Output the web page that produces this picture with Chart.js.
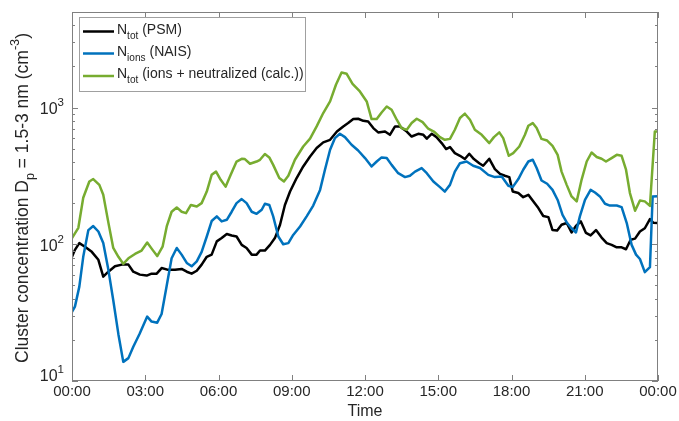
<!DOCTYPE html>
<html lang="en">
<head>
<meta charset="UTF-8" />
<title>Cluster concentration</title>
<script src="https://cdn.jsdelivr.net/npm/chart.js"></script>
<style>
  html, body { margin: 0; padding: 0; background: #fff; }
  #wrap { width: 679px; height: 421px; }
</style>
</head>
<body>
<div id="wrap"><canvas id="c" width="679" height="421"></canvas></div>
<script>
// time of day in hours (0 = 00:00, 24 = next 00:00), values in cm^-3
const tPSM = [0, 0.12, 0.30, 0.53, 0.81, 1.08, 1.28, 1.49, 1.76, 2.04,
  2.31, 2.51, 2.78, 3.06, 3.26, 3.47, 3.67, 3.94, 4.22, 4.49,
  4.70, 4.90, 5.11, 5.31, 5.52, 5.72, 5.93, 6.13, 6.34, 6.54,
  6.74, 6.95, 7.15, 7.36, 7.56, 7.70, 7.90, 8.11, 8.31, 8.52,
  8.72, 8.93, 9.20, 9.47, 9.75, 10.02, 10.29, 10.57, 10.85, 11.11,
  11.31, 11.52, 11.72, 11.93, 12.13, 12.34, 12.54, 12.82, 13.02, 13.23,
  13.43, 13.71, 13.91, 14.18, 14.39, 14.53, 14.73, 14.93, 15.14, 15.32,
  15.48, 15.68, 15.89, 16.09, 16.27, 16.46, 16.68, 16.84, 17.09, 17.32,
  17.53, 17.73, 17.91, 18.05, 18.28, 18.48, 18.69, 18.89, 19.10, 19.30,
  19.51, 19.68, 19.87, 20.05, 20.26, 20.46, 20.64, 20.84, 21.05, 21.24,
  21.46, 21.69, 21.90, 22.10, 22.31, 22.51, 22.69, 22.88, 23.06, 23.26,
  23.46, 23.67, 23.80, 24.0];
const nPSM = [81, 91, 102, 96, 88, 77, 58, 63, 69, 71,
  71, 63, 60, 59, 61, 61, 67, 65, 65, 66,
  63, 61, 64, 71, 81, 84, 105, 111, 119, 116,
  114, 99, 94, 84, 84, 90, 90, 99, 111, 139,
  194, 243, 305, 371, 439, 506, 556, 581, 668, 728,
  770, 824, 828, 800, 790, 708, 658, 668, 632, 728,
  728, 668, 614, 643, 632, 592, 643, 608, 550, 497,
  514, 464, 444, 420, 459, 420, 392, 375, 422, 355,
  327, 317, 310, 243, 237, 221, 230, 206, 184, 161,
  158, 127, 126, 139, 143, 122, 136, 147, 121, 116,
  127, 112, 102, 99, 95, 95, 92, 108, 110, 124,
  131, 153, 144, 143];

const tNAIS = [0, 0.12, 0.30, 0.46, 0.67, 0.87, 1.08, 1.28, 1.49, 1.69,
  1.90, 2.10, 2.31, 2.51, 2.76, 3.08, 3.26, 3.49, 3.67, 3.88,
  4.08, 4.29, 4.49, 4.70, 4.90, 5.11, 5.31, 5.52, 5.72, 5.93,
  6.13, 6.34, 6.54, 6.74, 6.95, 7.15, 7.36, 7.56, 7.77, 7.90,
  8.08, 8.24, 8.45, 8.65, 8.86, 9.06, 9.34, 9.61, 9.88, 10.16,
  10.36, 10.57, 10.77, 10.97, 11.18, 11.45, 11.72, 12.00, 12.27, 12.48,
  12.68, 12.89, 13.09, 13.36, 13.64, 13.84, 14.05, 14.32, 14.53, 14.80,
  15.07, 15.27, 15.48, 15.68, 15.89, 16.16, 16.43, 16.71, 17.05, 17.32,
  17.60, 17.87, 18.05, 18.28, 18.48, 18.69, 18.87, 19.03, 19.23, 19.46,
  19.68, 19.89, 20.09, 20.28, 20.46, 20.64, 20.80, 21.01, 21.24, 21.42,
  21.62, 21.83, 22.03, 22.31, 22.51, 22.72, 22.92, 23.10, 23.26, 23.46,
  23.67, 23.78, 24.0];
const nNAIS = [32, 35, 49, 81, 127, 136, 124, 102, 65, 39,
  22, 13.8, 14.7, 17.8, 22, 29.6, 27.2, 26.7, 30.9, 50,
  79, 94, 84, 73, 69, 75, 88, 114, 148, 160,
  147, 151, 173, 200, 214, 200, 173, 167, 179, 198,
  194, 160, 114, 100, 102, 117, 135, 160, 192, 250,
  351, 491, 598, 643, 608, 535, 485, 427, 371, 403,
  432, 427, 381, 331, 310, 317, 340, 361, 331, 288,
  262, 243, 272, 340, 392, 403, 375, 361, 322, 310,
  313, 268, 262, 300, 351, 403, 415, 361, 293, 277,
  250, 211, 164, 143, 131, 122, 160, 211, 250, 239,
  224, 198, 192, 192, 187, 143, 99, 84, 78, 62.5,
  68, 224, 225];

const tCalc = [0, 0.26, 0.46, 0.71, 0.87, 1.12, 1.28, 1.49, 1.69, 1.90,
  2.10, 2.31, 2.58, 2.85, 3.08, 3.30, 3.49, 3.71, 3.88, 4.08,
  4.29, 4.49, 4.67, 4.87, 5.11, 5.31, 5.52, 5.72, 5.90, 6.09,
  6.29, 6.50, 6.74, 6.95, 7.08, 7.29, 7.56, 7.70, 7.90, 8.08,
  8.24, 8.49, 8.68, 8.86, 9.13, 9.47, 9.75, 10.02, 10.29, 10.57,
  10.81, 11.04, 11.25, 11.49, 11.79, 12.07, 12.27, 12.48, 12.68, 12.89,
  13.09, 13.30, 13.50, 13.71, 13.91, 14.12, 14.36, 14.59, 14.82, 15.07,
  15.27, 15.48, 15.68, 15.89, 16.09, 16.30, 16.50, 16.78, 17.09, 17.28,
  17.50, 17.66, 17.89, 18.07, 18.32, 18.55, 18.69, 18.87, 19.03, 19.23,
  19.46, 19.68, 19.89, 20.05, 20.26, 20.46, 20.67, 20.87, 21.08, 21.28,
  21.49, 21.69, 21.87, 22.10, 22.31, 22.51, 22.69, 22.85, 23.06, 23.26,
  23.46, 23.67, 23.87, 24.0];
const nCalc = [111, 132, 219, 288, 300, 272, 230, 144, 94, 81,
  72, 79, 85, 90, 103, 91, 82, 96, 135, 173,
  186, 173, 169, 194, 189, 200, 243, 322, 340, 296,
  264, 322, 403, 422, 420, 388, 403, 415, 457, 432,
  381, 305, 288, 317, 415, 519, 592, 728, 912, 1109,
  1469, 1807, 1767, 1493, 1312, 1109, 824, 824, 921, 1019,
  964, 815, 708, 688, 770, 828, 783, 700, 668, 608,
  581, 590, 688, 838, 902, 815, 688, 632, 550, 608,
  658, 598, 444, 464, 519, 632, 736, 770, 708, 590,
  574, 525, 451, 340, 272, 224, 206, 296, 403, 469,
  435, 422, 403, 427, 451, 444, 351, 237, 176, 209,
  206, 191, 668, 668];

const xTicks = [0, 3, 6, 9, 12, 15, 18, 21, 24];
const xTickLabels = ['00:00', '03:00', '06:00', '09:00', '12:00', '15:00', '18:00', '21:00', '00:00'];
const yTicks = [10, 100, 1000];
const yTickExps = ['1', '2', '3'];

const seriesNames = [
  [['N', 0], ['tot', 1], [' (PSM)', 0]],
  [['N', 0], ['ions', 1], [' (NAIS)', 0]],
  [['N', 0], ['tot', 1], [' (ions + neutralized (calc.))', 0]]
];

const FONT = '"Liberation Sans", Arial, Helvetica, sans-serif';
const TXT = '#262626';
const AXIS = '#808080';

function toPoints(ts, vs) {
  return ts.map((t, i) => ({ x: t, y: vs[i] }));
}

// text made of normal (0), subscript (1) and superscript (2) pieces
function richWidth(ctx, parts, size) {
  let w = 0;
  for (const [s, m] of parts) {
    ctx.font = (m ? size * 0.72 : size) + 'px ' + FONT;
    w += ctx.measureText(s).width;
  }
  return w;
}
function drawRich(ctx, parts, x, y, size) {
  ctx.textBaseline = 'middle';
  ctx.textAlign = 'left';
  for (const [s, m] of parts) {
    ctx.font = (m ? size * 0.72 : size) + 'px ' + FONT;
    const dy = m === 1 ? size * 0.42 : m === 2 ? -size * 0.42 : 0;
    ctx.fillText(s, x, y + dy);
    x += ctx.measureText(s).width;
  }
}

const frame = {
  id: 'frame',
  afterDraw(chart) {
    const { ctx, chartArea: a, scales: { x, y } } = chart;
    ctx.save();
    ctx.strokeStyle = AXIS;
    ctx.lineWidth = 1;
    ctx.strokeRect(a.left + 0.5, a.top + 0.5, a.right - a.left - 1, a.bottom - a.top - 1);
    ctx.beginPath();
    for (const v of xTicks) {
      const px = Math.round(x.getPixelForValue(v)) + 0.5;
      ctx.moveTo(px, a.bottom); ctx.lineTo(px, a.bottom - 6);
      ctx.moveTo(px, a.top); ctx.lineTo(px, a.top + 6);
    }
    for (let d = 1; d <= 3; d++) {
      for (let m = 1; m <= 9; m++) {
        const v = m * Math.pow(10, d);
        if (v > y.max) break;
        const py = Math.round(y.getPixelForValue(v)) + 0.5;
        const len = m === 1 ? 6 : 3;
        ctx.moveTo(a.left, py); ctx.lineTo(a.left + len, py);
        ctx.moveTo(a.right, py); ctx.lineTo(a.right - len, py);
      }
    }
    ctx.stroke();

    ctx.fillStyle = TXT;
    // y tick labels 10^n
    yTicks.forEach((v, i) => {
      const parts = [['10', 0], [yTickExps[i], 2]];
      const py = y.getPixelForValue(v) + (i === 0 ? -4 : 2);
      drawRich(ctx, parts, 64 - richWidth(ctx, parts, 16), py, 16);
    });

    // x title
    ctx.font = '16px ' + FONT;
    ctx.textAlign = 'center';
    ctx.textBaseline = 'middle';
    ctx.fillText('Time', (a.left + a.right) / 2, 412);

    // y title
    const yt = [['Cluster concentration D', 0], ['p', 1], [' = 1.5-3 nm (cm', 0], ['-3', 2], [')', 0]];
    ctx.save();
    ctx.translate(23, 198);
    ctx.rotate(-Math.PI / 2);
    drawRich(ctx, yt, -richWidth(ctx, yt, 17.5) / 2, 0, 17.5);
    ctx.restore();

    // legend
    const lx = 79, ly = 17, lw = 226, lh = 74;
    ctx.fillStyle = '#fff';
    ctx.fillRect(lx, ly, lw, lh);
    ctx.strokeStyle = '#a0a0a0';
    ctx.strokeRect(lx + 0.5, ly + 0.5, lw, lh);
    const rows = [31.5, 53.5, 76];
    chart.data.datasets.forEach((ds, i) => {
      ctx.strokeStyle = ds.borderColor;
      ctx.lineWidth = 2.5;
      ctx.beginPath();
      ctx.moveTo(83, rows[i]); ctx.lineTo(114, rows[i]);
      ctx.stroke();
      ctx.fillStyle = TXT;
      drawRich(ctx, seriesNames[i], 117, rows[i] - 1.5, 14);
    });
    ctx.restore();
  }
};

new Chart(document.getElementById('c'), {
  type: 'line',
  data: {
    datasets: [
      { label: 'N_tot (PSM)', data: toPoints(tPSM, nPSM), borderColor: '#000000', order: 2 },
      { label: 'N_ions (NAIS)', data: toPoints(tNAIS, nNAIS), borderColor: '#0072BD', order: 1 },
      { label: 'N_tot (ions + neutralized (calc.))', data: toPoints(tCalc, nCalc), borderColor: '#77AC30', order: 0 }
    ]
  },
  options: {
    responsive: false,
    animation: false,
    devicePixelRatio: 1,
    layout: { padding: { left: 0, right: 21, top: 12, bottom: 0 } },
    elements: {
      point: { radius: 0 },
      line: { borderWidth: 2.5, tension: 0, borderJoinStyle: 'round', borderCapStyle: 'round' }
    },
    plugins: { legend: { display: false }, tooltip: { enabled: false } },
    scales: {
      x: {
        type: 'linear', min: 0, max: 24,
        afterBuildTicks: s => { s.ticks = xTicks.map(v => ({ value: v })); },
        afterFit: s => { s.height = 40; },
        ticks: {
          callback: (v, i) => xTickLabels[i],
          autoSkip: false, maxRotation: 0, padding: 2,
          color: TXT, font: { family: FONT, size: 15 }
        },
        grid: { display: false, drawTicks: false },
        border: { display: false }
      },
      y: {
        type: 'logarithmic', min: 10, max: 5000,
        afterBuildTicks: s => { s.ticks = yTicks.map(v => ({ value: v })); },
        afterFit: s => { s.width = 72; },
        ticks: { display: false },
        grid: { display: false, drawTicks: false },
        border: { display: false }
      }
    }
  },
  plugins: [frame]
});
</script>
</body>
</html>
